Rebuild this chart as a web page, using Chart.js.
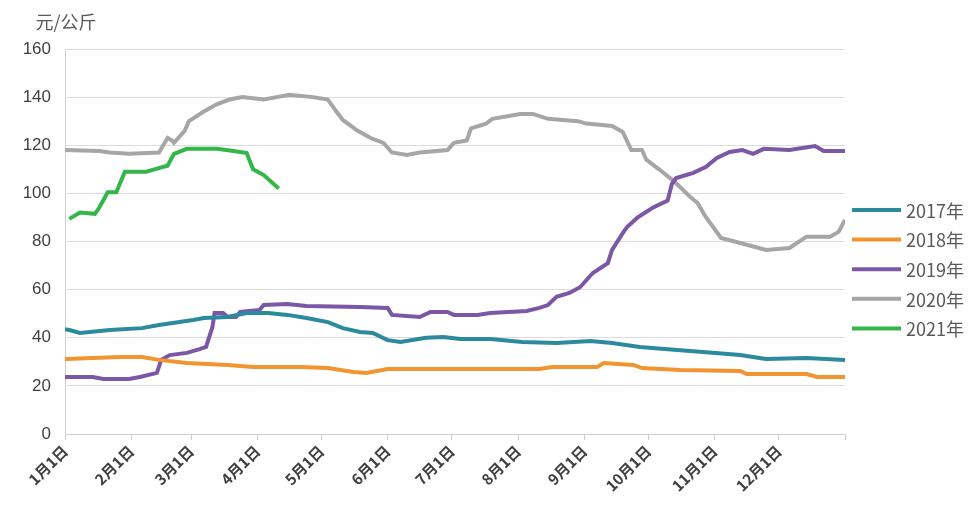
<!DOCTYPE html>
<html>
<head>
<meta charset="utf-8">
<script src="https://cdn.jsdelivr.net/npm/chart.js@4"></script>
<style>
  html, body { margin: 0; padding: 0; background: #fff; }
  #wrap { width: 974px; height: 510px; }
</style>
</head>
<body>
<div id="wrap"><canvas id="priceChart" width="974" height="510"></canvas></div>
<script>
// month start ticks (day of year) and labels
const monthDays = [0, 31, 59, 90, 120, 151, 181, 212, 243, 273, 304, 334, 365];
const monthLabels = ['1月1日', '2月1日', '3月1日', '4月1日', '5月1日', '6月1日', '7月1日', '8月1日', '9月1日', '10月1日', '11月1日', '12月1日', ''];
const seriesNames = ['2017年', '2018年', '2019年', '2020年', '2021年'];

// 2017
const days2017 = [0, 2, 7, 21, 36, 44, 60, 65, 76, 85, 95, 104, 113, 123, 130, 138, 144, 151, 157, 169, 177, 185, 199, 214, 230, 246, 256, 269, 285, 300, 316, 328, 347, 365];
const vals2017 = [43.5, 43.2, 42, 43.2, 44, 45.3, 47.4, 48.2, 48.6, 50.3, 50.3, 49.5, 48.2, 46.5, 44, 42.4, 42, 39, 38.2, 40, 40.3, 39.5, 39.5, 38.2, 37.8, 38.6, 37.8, 36.2, 35, 34, 32.8, 31.2, 31.6, 30.8];

// 2018
const days2018 = [0, 13, 26, 36, 44, 57, 76, 88, 110, 123, 135, 141, 151, 185, 222, 228, 249, 252, 266, 270, 288, 316, 319, 347, 352, 365];
const vals2018 = [31.2, 31.6, 32, 32, 30.8, 29.5, 28.7, 27.8, 27.8, 27.4, 25.8, 25.4, 27, 27, 27, 27.8, 27.8, 29.5, 28.7, 27.4, 26.6, 26.2, 24.9, 24.9, 23.7, 23.7];

// 2019
const days2019 = [0, 13, 18, 30, 35, 43, 45, 49, 57, 63, 66, 69, 70, 74, 76, 80, 82, 91, 93, 104, 113, 138, 151, 153, 166, 171, 179, 182, 193, 199, 216, 222, 226, 230, 236, 241, 247, 254, 256, 261, 263, 268, 275, 282, 284, 286, 294, 300, 305, 311, 317, 322, 327, 339, 351, 355, 365];
const vals2019 = [23.7, 23.7, 22.9, 22.9, 23.7, 25.4, 30.8, 32.8, 33.7, 35.3, 36.2, 44.5, 50.3, 50.3, 48.6, 48.6, 50.7, 51.5, 53.6, 54, 53.2, 52.8, 52.4, 49.5, 48.6, 50.7, 50.7, 49.5, 49.5, 50.3, 51.1, 52.4, 53.6, 57, 58.6, 61, 66.9, 71, 76.5, 83.5, 86, 90, 94, 97, 104, 106.4, 108.5, 111, 114.7, 117.2, 118, 116.4, 118.5, 118, 119.7, 117.6, 117.6];

// 2020
const days2020 = [0, 16, 21, 30, 44, 48, 50, 51, 56, 58, 65, 71, 77, 83, 93, 99, 105, 116, 123, 127, 130, 137, 143, 149, 153, 160, 166, 179, 182, 188, 190, 197, 200, 213, 219, 226, 240, 244, 256, 261, 265, 270, 272, 278, 285, 292, 296, 300, 307, 316, 328, 339, 347, 358, 362, 365];
const vals2020 = [118, 117.6, 117, 116.5, 117, 123, 122, 121, 126, 130, 134, 137, 139, 140, 139, 140, 141, 140, 139, 134, 130.5, 126, 123, 121, 117, 116, 117, 118, 121, 122, 127, 129, 131, 133, 133, 131, 130, 129, 128, 125.5, 118, 118, 114, 110, 105, 99, 96, 90, 81.5, 79.4, 76.5, 77.3, 82, 82, 84, 89];

// 2021
const days2021 = [2, 7, 14, 16, 20, 24, 28, 38, 46, 48, 51, 57, 71, 79, 85, 88, 93, 100];
const vals2021 = [89.4, 92, 91.5, 94, 100.5, 100.5, 109, 109, 111, 111.5, 116.4, 118.5, 118.5, 117.6, 116.8, 110, 107.6, 102];

const seriesDays = [days2017, days2018, days2019, days2020, days2021];
const seriesVals = [vals2017, vals2018, vals2019, vals2020, vals2021];
const seriesColors = ['#2b8a9e', '#f0952f', '#7c57a6', '#a6a6a6', '#35b64a'];

const datasets = seriesNames.map((name, i) => ({
  label: name,
  data: seriesDays[i].map((d, j) => ({ x: d, y: seriesVals[i][j] })),
  borderColor: seriesColors[i],
  backgroundColor: seriesColors[i],
  borderWidth: 4,
  pointRadius: 0,
  tension: 0,
  fill: false
}));

const textColor = '#595959';

// unit label + legend on the right
const extras = {
  id: 'extras',
  afterDraw(chart) {
    const ctx = chart.ctx;
    ctx.save();
    ctx.fillStyle = textColor;
    ctx.font = '18px "Noto Sans CJK SC", sans-serif';
    ctx.textAlign = 'center';
    ctx.textBaseline = 'middle';
    ctx.fillText('元/公斤', 66, 22);

    ctx.textAlign = 'left';
    ctx.font = '18px "Noto Sans CJK SC", sans-serif';
    chart.data.datasets.forEach((ds, i) => {
      const y = 210 + i * 29.6;
      ctx.strokeStyle = ds.borderColor;
      ctx.lineWidth = 4;
      ctx.beginPath();
      ctx.moveTo(852, y);
      ctx.lineTo(901, y);
      ctx.stroke();
      ctx.fillStyle = textColor;
      ctx.fillText(ds.label, 906, y + 1);
    });
    ctx.restore();
  }
};

new Chart(document.getElementById('priceChart'), {
  type: 'line',
  data: { datasets },
  options: {
    responsive: false,
    animation: false,
    layout: { padding: { top: 49, right: 129, bottom: 0, left: 0 } },
    plugins: {
      legend: { display: false },
      tooltip: { enabled: false }
    },
    scales: {
      x: {
        type: 'linear',
        min: 0,
        max: 365,
        afterBuildTicks: axis => { axis.ticks = monthDays.map(v => ({ value: v })); },
        afterFit: axis => { axis.height = 76; },
        ticks: {
          autoSkip: false,
          maxRotation: 45,
          minRotation: 45,
          padding: 2,
          color: '#404040',
          font: { family: '"Noto Sans CJK SC", sans-serif', size: 15, weight: 'bold' },
          callback: (v) => monthLabels[monthDays.indexOf(v)]
        },
        grid: { drawOnChartArea: false, drawTicks: true, tickLength: 6, color: '#d0d0d0' },
        border: { color: '#d0d0d0' }
      },
      y: {
        min: 0,
        max: 160,
        afterFit: axis => { axis.width = 65; },
        ticks: {
          stepSize: 20,
          padding: 14,
          color: '#404040',
          font: { family: '"Liberation Sans", sans-serif', size: 17 }
        },
        grid: { color: '#dcdcdc', drawTicks: false },
        border: { color: '#d0d0d0' }
      }
    }
  },
  plugins: [extras]
});
</script>
</body>
</html>
